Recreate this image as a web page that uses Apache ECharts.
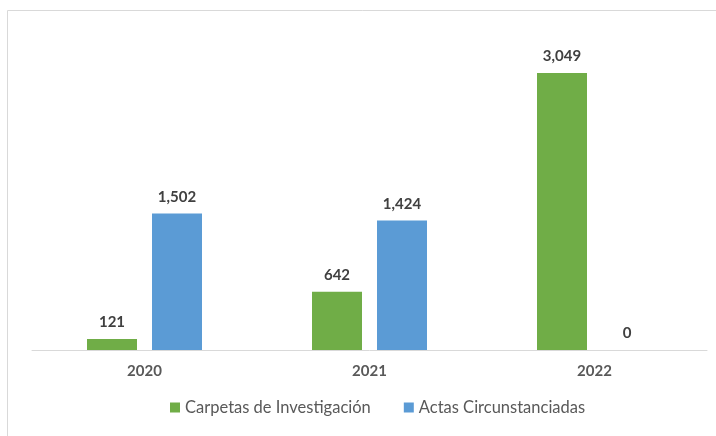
<!DOCTYPE html>
<html>
<head>
<meta charset="utf-8">
<script src="https://cdn.jsdelivr.net/npm/echarts@6/dist/echarts.min.js"></script>
<style>
  html, body { margin: 0; padding: 0; background: #fff; }
  #chart { width: 716px; height: 436px; }
</style>
</head>
<body>
<div id="chart"></div>
<script>
const years = ['2020', '2021', '2022']
const carpetas = [121, 642, 3049]
const actas = [1502, 1424, 0]

const chart = echarts.init(document.getElementById('chart'))

const valueLabel = {
  show: true,
  position: 'top',
  distance: 9,
  fontFamily: 'Lato',
  fontWeight: 'bold',
  fontSize: 15,
  color: '#404040',
  formatter: p => p.value.toLocaleString('en-US')
}

const option = {
  animation: false,
  textStyle: { fontFamily: 'Lato' },
  graphic: [
    {
      type: 'rect',
      z: -1,
      shape: { x: 7.5, y: 10.5, width: 760, height: 480 },
      style: { fill: 'none', stroke: '#d9d9d9', lineWidth: 1 }
    }
  ],
  legend: {
    bottom: 15,
    left: 165,
    itemWidth: 10,
    itemHeight: 10,
    itemGap: 33,
    icon: 'rect',
    textStyle: { fontSize: 16.5, color: '#595959', fontFamily: 'Lato' },
    data: ['Carpetas de Investigación', 'Actas Circunstanciadas']
  },
  grid: { left: 32, right: 9, top: 32, bottom: 86 },
  xAxis: {
    type: 'category',
    data: years,
    axisLine: { lineStyle: { color: '#d9d9d9', width: 1 } },
    axisTick: { show: false },
    axisLabel: {
      fontWeight: 'bold',
      fontSize: 15,
      color: '#595959',
      margin: 14
    }
  },
  yAxis: {
    type: 'value',
    min: 0,
    max: 3500,
    show: false,
    splitLine: { show: false }
  },
  series: [
    {
      name: 'Carpetas de Investigación',
      type: 'bar',
      data: carpetas,
      barWidth: 50,
      barGap: '30%',
      itemStyle: { color: '#70ad47' },
      label: valueLabel
    },
    {
      name: 'Actas Circunstanciadas',
      type: 'bar',
      data: actas,
      barWidth: 50,
      itemStyle: { color: '#5b9bd5' },
      label: valueLabel
    }
  ]
}

chart.setOption(option)
</script>
</body>
</html>
